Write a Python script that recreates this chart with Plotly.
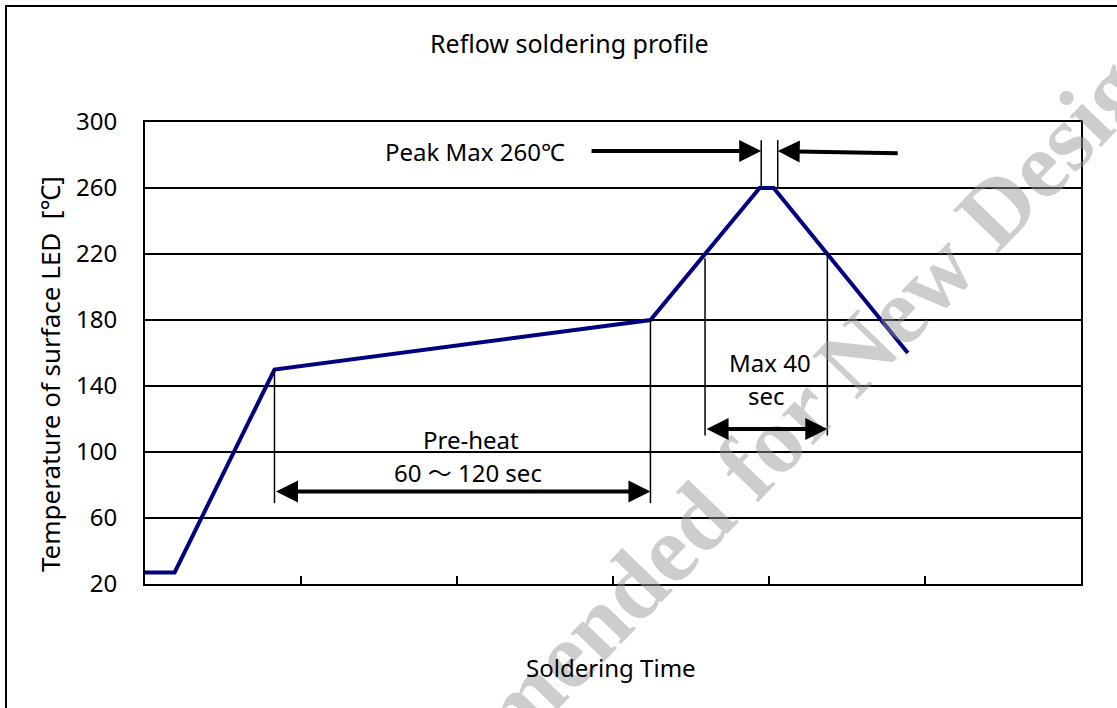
import numpy as np
import plotly.graph_objects as go

# ---- data -------------------------------------------------------------
time_pts = [0, 0.19, 0.83, 3.24, 3.94, 4.03, 4.89]      # arbitrary time units (ticks unlabeled)
temp_pts = [27, 27, 150, 180, 260, 260, 160]             # degC
y_ticks = [20, 60, 100, 140, 180, 220, 260, 300]
x_ticks = [1, 2, 3, 4, 5]

title_text = "Reflow soldering profile"
x_title = "Soldering Time"
y_title = "Temperature of surface LED \u00a0[℃]"
peak_label = "Peak Max 260℃"
preheat_label = ["Pre-heat", "60 ～ 120 sec"]
max40_label = ["Max 40", "sec"]
watermark = "Not Recommended for New Design"

FONT = "Noto Sans, Noto Sans CJK JP, sans-serif"

fig = go.Figure()
fig.add_trace(go.Scatter(x=time_pts, y=temp_pts, mode="lines",
                         line=dict(color="#000080", width=4), hoverinfo="skip",
                         showlegend=False))

# derived annotation anchors
pre_start, pre_end = time_pts[2], time_pts[3]
t220_up = float(np.interp(220, temp_pts[3:5], time_pts[3:5]))
t220_dn = float(np.interp(-220, [-temp_pts[5], -temp_pts[6]], [time_pts[5], time_pts[6]]))
peak_win = [3.95, 4.056]

shapes = []
def vline(x, y0, y1, w=1.5):
    shapes.append(dict(type="line", xref="x", yref="y", x0=x, x1=x, y0=y0, y1=y1,
                       line=dict(color="black", width=w)))

vline(pre_start, 69, temp_pts[2])
vline(pre_end, 69, temp_pts[3])
vline(t220_up, 110, 217.5)
vline(t220_dn, 110, 220)
vline(peak_win[0], 260, 289)
vline(peak_win[1], 260, 289)

# outer frame (runs off the right and bottom edges, as in the reference)
shapes.append(dict(type="rect", xref="paper", yref="paper", x0=-0.1485, x1=1.06,
                   y0=-0.32, y1=1.251, line=dict(color="black", width=2),
                   fillcolor="rgba(0,0,0,0)"))

ann = []

# watermark (first, so other texts are drawn over it)
ann.append(dict(x=0.563, y=0.085, xref="paper", yref="paper",
                xanchor="center", yanchor="middle",
                text="<b>" + watermark + "</b>",
                textangle=-46, showarrow=False,
                font=dict(family="Liberation Serif, serif", size=95,
                          color="rgba(150,150,150,0.48)")))

def arrow(x, y, ax, ay, both=False):
    d = dict(x=x, y=y, ax=ax, ay=ay, xref="x", yref="y", axref="x", ayref="y",
             text="", showarrow=True, arrowhead=2, arrowwidth=4, arrowsize=1.1,
             arrowcolor="black", standoff=0)
    if both:
        d.update(arrowside="end+start", startarrowhead=2, startarrowsize=1.1,
                 startstandoff=0)
    ann.append(d)

arrow(pre_end, 76, pre_start, 76, both=True)
arrow(t220_dn, 114, t220_up, 114, both=True)
arrow(peak_win[0], 282.4, 2.853, 282.4)
arrow(peak_win[1], 282.4, 4.835, 281.0)

def label(x, y, text, size=24, **kw):
    ann.append(dict(x=x, y=y, xref="x", yref="y", text=text, showarrow=False,
                    xanchor="center", yanchor="middle",
                    font=dict(family=FONT, size=size, color="black"), **kw))

label(2.115, 282.4, peak_label)
label(2.09, 107.3, preheat_label[0])
label(2.07, 87.5, preheat_label[1])
label(4.006, 154, max40_label[0])
label(3.985, 134, max40_label[1])

# titles as paper annotations
def ptext(x, y, text, size=24, angle=0):
    ann.append(dict(x=x, y=y, xref="paper", yref="paper", text=text,
                    xanchor="center", yanchor="middle", textangle=angle,
                    showarrow=False, font=dict(family=FONT, size=size, color="black")))

ptext(0.454, 1.171, title_text, size=25)
ptext(0.498, -0.18, x_title)
ptext(-0.1015, 0.4545, y_title, size=26, angle=-90)

fig.update_layout(
    width=1117, height=708,
    margin=dict(l=145, r=36, t=122, b=124, pad=0),
    paper_bgcolor="white", plot_bgcolor="white",
    shapes=shapes, annotations=ann,
    xaxis=dict(range=[0, 6], tickvals=x_ticks, showticklabels=False,
               ticks="inside", ticklen=8, tickwidth=1.5, tickcolor="black",
               showgrid=False, zeroline=False, showline=True, linewidth=2,
               linecolor="black", mirror=True, fixedrange=True),
    yaxis=dict(range=[20, 300], tickvals=y_ticks, showgrid=True, gridcolor="black",
               gridwidth=1.5, zeroline=False, showline=True, linewidth=2,
               linecolor="black", mirror=True, ticks="", ticklabelstandoff=21,
               tickfont=dict(family=FONT, size=24, color="black"), fixedrange=True),
)

# remove the browser's default 8px body margin so the figure sits at (0, 0)
fig.write_html("out.html", config={"displayModeBar": False},
               post_script="document.body.style.margin='0px';document.body.style.overflow='hidden';")
